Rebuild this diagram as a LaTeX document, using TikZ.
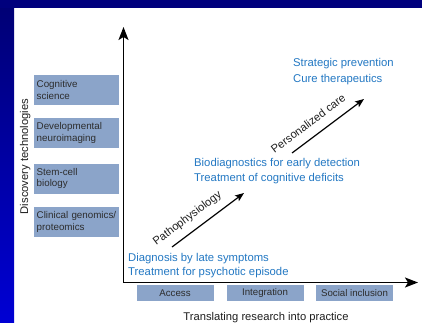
\documentclass[tikz,border=0pt]{standalone}
\usepackage{fontspec}
\setmainfont{Liberation Sans}
\usetikzlibrary{arrows.meta}
\newcommand\myNoHyph{\hyphenpenalty10000\relax\exhyphenpenalty10000\relax}
\definecolor{navyband}{RGB}{0,0,125}
\definecolor{striptop}{RGB}{0,0,115}
\definecolor{stripbot}{RGB}{0,0,212}
\definecolor{boxfill}{RGB}{139,164,201}
\definecolor{boxtext}{RGB}{45,45,45}
\definecolor{bluetext}{RGB}{35,120,195}
\begin{document}
\begin{tikzpicture}[x=1pt,y=-1pt,
 techbox/.style={fill=boxfill, draw=none, anchor=west, text width=80pt, inner xsep=2.5pt, inner ysep=0pt, minimum height=30pt, align=left, text=boxtext, font=\fontsize{9.8}{11.5}\selectfont\myNoHyph},
 stagebox/.style={fill=boxfill, minimum width=77pt, minimum height=16pt, inner sep=0pt, text=boxtext, font=\fontsize{9.7}{11}\selectfont},
 outcome/.style={anchor=base west, text=bluetext, inner sep=0pt, font=\fontsize{11.3}{13}\selectfont},
 axislabel/.style={inner sep=0pt, text=black!88, font=\fontsize{11.2}{13}\selectfont},
 axisline/.style={line width=1.6pt, line join=miter, {Stealth[length=13pt,width=10pt,inset=3pt]}-{Stealth[length=13pt,width=10pt,inset=3pt]}},
 progress/.style={line width=1.2pt, -{Stealth[length=9pt,width=7pt,inset=2pt]}},
]
\useasboundingbox (0,0) rectangle (422,322);
\fill[white] (0,0) rectangle (422,322);
\shade[top color=striptop, bottom color=stripbot] (0,0) rectangle (14,322);
\fill[navyband] (0,0) rectangle (422,8);

% axes
\coordinate (ytip) at (123.5,27);
\coordinate (xtip) at (418,282.5);
\draw[axisline] (ytip) |- (xtip);

% discovery technology boxes
\node[techbox] (cog) at (34,90) {Cognitive\\science};
\node[techbox] (dev) at (34,133) {Developmental\\neuroimaging};
\node[techbox] (stem) at (34,178.5) {Stem-cell\\biology};
\node[techbox] (clin) at (34,222) {Clinical genomics/\\proteomics};

% stage boxes
\node[stagebox] (access) at (175,293) {Access};
\node[stagebox] (integ) at (265,293) {Integration};
\node[stagebox] (social) at (354.5,293) {Social inclusion};

% axis labels
\node[axislabel, rotate=90, anchor=base] (ylab) at (28,156.5) {Discovery technologies};
\node[axislabel, anchor=base] (xlab) at (266,320.5) {Translating research into practice};

% outcomes
\node[outcome] (d1) at (128,261) {Diagnosis by late symptoms};
\node[outcome] (d2) at (128,275.5) {Treatment for psychotic episode};
\node[outcome] (b1) at (194,166) {Biodiagnostics for early detection};
\node[outcome] (b2) at (194,181) {Treatment of cognitive deficits};
\node[outcome] (s1) at (293,66) {Strategic prevention};
\node[outcome] (s2) at (293,82) {Cure therapeutics};

% progress arrows
\coordinate (pa) at (172,247);
\coordinate (pb) at (244,193);
\draw[progress] (pa) -- (pb);
\node[axislabel, rotate=36.87, anchor=base] (plab) at (189.2,221) {Pathophysiology};

\coordinate (qa) at (292,153);
\coordinate (qb) at (364,99);
\draw[progress] (qa) -- (qb);
\node[axislabel, rotate=36.87, anchor=base] (qlab) at (310.6,126.8) {Personalized care};
\end{tikzpicture}
\end{document}
